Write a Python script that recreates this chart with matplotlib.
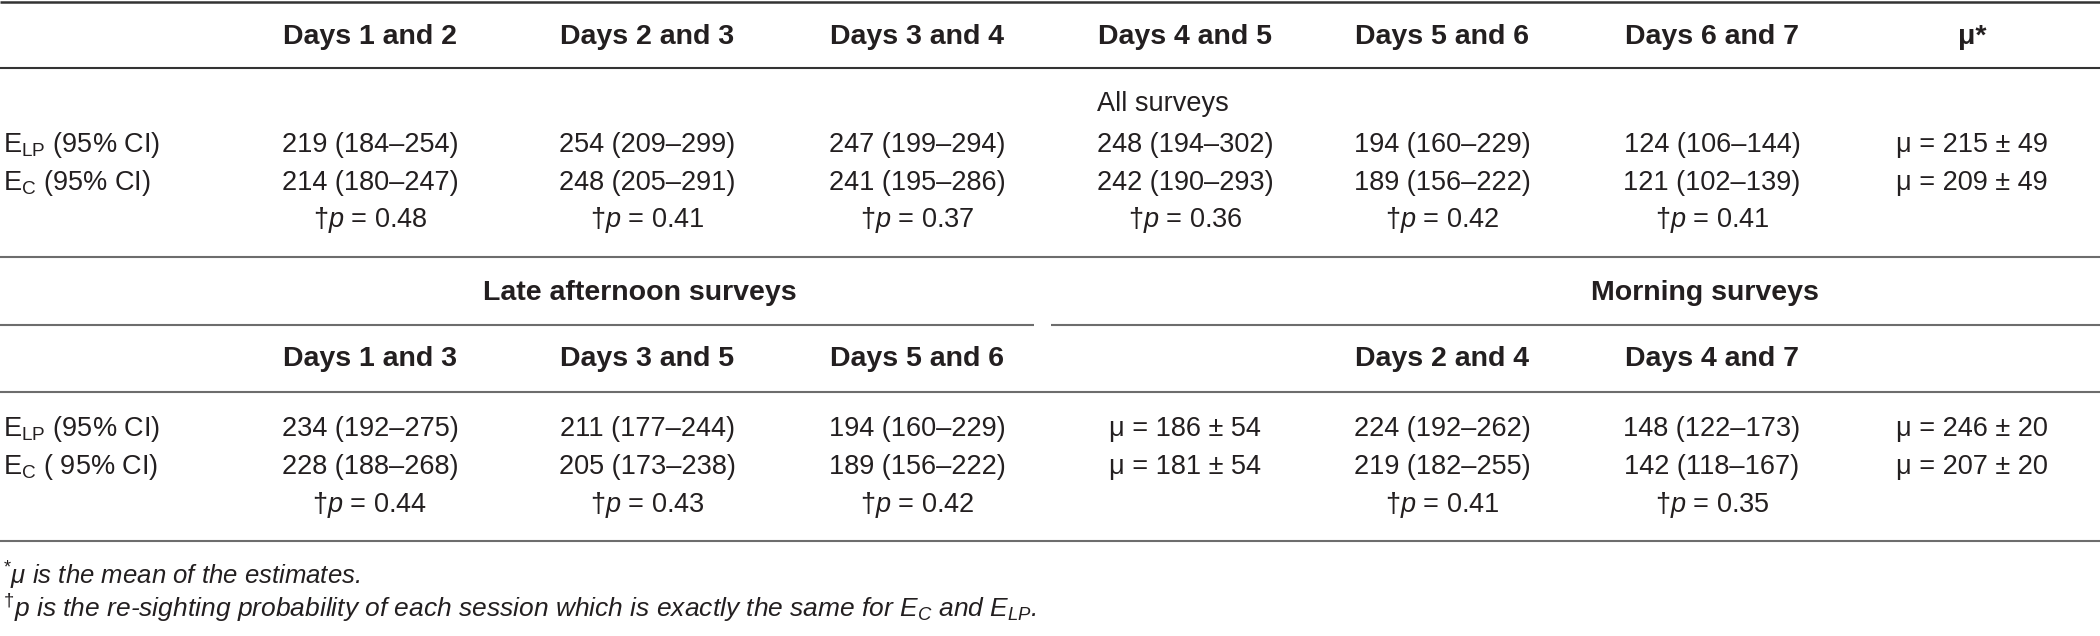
"""
Capture-recapture estimates table (Lincoln-Petersen vs Chapman).
"""
import matplotlib
matplotlib.use("Agg")
from matplotlib import pyplot as plt

plt.rcParams['font.family'] = ['Liberation Sans', 'DejaVu Sans']
plt.rcParams['mathtext.fontset'] = 'custom'
plt.rcParams['mathtext.rm'] = 'Liberation Sans'
plt.rcParams['mathtext.it'] = 'Liberation Sans:italic'
plt.rcParams['mathtext.bf'] = 'Liberation Sans:bold'

# all surveys
all_cols = ["Days 1 and 2", "Days 2 and 3", "Days 3 and 4", "Days 4 and 5",
            "Days 5 and 6", "Days 6 and 7"]
all_elp = [219, 254, 247, 248, 194, 124]
all_elp_lo = [184, 209, 199, 194, 160, 106]
all_elp_hi = [254, 299, 294, 302, 229, 144]
all_ec = [214, 248, 241, 242, 189, 121]
all_ec_lo = [180, 205, 195, 190, 156, 102]
all_ec_hi = [247, 291, 286, 293, 222, 139]
all_p = ["0.48", "0.41", "0.37", "0.36", "0.42", "0.41"]
all_mu = [215, 209]
all_sd = [49, 49]

# late afternoon surveys
pm_cols = ["Days 1 and 3", "Days 3 and 5", "Days 5 and 6"]
pm_elp = [234, 211, 194]
pm_elp_lo = [192, 177, 160]
pm_elp_hi = [275, 244, 229]
pm_ec = [228, 205, 189]
pm_ec_lo = [188, 173, 156]
pm_ec_hi = [268, 238, 222]
pm_p = ["0.44", "0.43", "0.42"]
pm_mu = [186, 181]
pm_sd = [54, 54]

# morning surveys
am_cols = ["Days 2 and 4", "Days 4 and 7"]
am_elp = [224, 148]
am_elp_lo = [192, 122]
am_elp_hi = [262, 173]
am_ec = [219, 142]
am_ec_lo = [182, 118]
am_ec_hi = [255, 167]
am_p = ["0.41", "0.35"]
am_mu = [246, 207]
am_sd = [20, 20]

ink = "#231f20"
W, H = 2100, 636
colx = [370, 647, 917, 1185, 1442, 1712, 1972]
fs = 19.5
fsb = 20.5


def est(v, lo, hi):
    return "{0} ({1}\u2013{2})".format(v, lo, hi)


def ptext(p, italic=False):
    if italic:
        return "\u2020$p$ = $\\mathit{" + p + "}$"
    return "\u2020$p$ = " + p


fig = plt.figure(figsize=(W / 100, H / 100), dpi=100)
ax = fig.add_axes([0, 0, 1, 1])
ax.set_xlim(0, W)
ax.set_ylim(H, 0)
ax.axis("off")


def cell(x, y, s, bold=False, ha="center", **kw):
    ax.text(x, y, s, ha=ha, va="center", fontsize=fsb if bold else fs,
            fontweight="bold" if bold else "normal", color=ink, **kw)


def hline(y, x0=0, x1=W, color="#6d6d6d", lw=1.5):
    ax.plot([x0, x1], [y, y], color=color, lw=lw, solid_capstyle="butt")


# rules
hline(1.5, color="#333333", lw=1.8)
hline(68, color="#333333")
hline(257)
hline(325, 0, 1034)
hline(325, 1051, W)
hline(392)
hline(541)

# upper block
for i, c in enumerate(all_cols):
    cell(colx[i], 37, c, bold=True)
cell(colx[6], 37, "\u03bc*", bold=True)
cell(1163, 104, "All surveys")
y_lp, y_c, y_p = 145, 183, 220
cell(3, y_lp, "E$_{\\mathrm{LP}}$ (95% CI)", ha="left")
cell(3, y_c, "E$_{\\mathrm{C}}$ (95% CI)", ha="left")
for i in range(len(all_cols)):
    cell(colx[i], y_lp, est(all_elp[i], all_elp_lo[i], all_elp_hi[i]))
    cell(colx[i], y_c, est(all_ec[i], all_ec_lo[i], all_ec_hi[i]))
    cell(colx[i], y_p, ptext(all_p[i], italic=(all_p[i] == "0.37")))
cell(colx[6], y_lp, "\u03bc = {0} \u00b1 {1}".format(all_mu[0], all_sd[0]))
cell(colx[6], y_c, "\u03bc = {0} \u00b1 {1}".format(all_mu[1], all_sd[1]))

# lower block
cell(640, 293, "Late afternoon surveys", bold=True)
cell(1705, 293, "Morning surveys", bold=True)
for i, c in enumerate(pm_cols):
    cell(colx[i], 359, c, bold=True)
for i, c in enumerate(am_cols):
    cell(colx[4 + i], 359, c, bold=True)
y_lp, y_c, y_p = 429, 467, 505
cell(3, y_lp, "E$_{\\mathrm{LP}}$ (95% CI)", ha="left")
cell(3, y_c, "E$_{\\mathrm{C}}$ ( 95% CI)", ha="left")
for i in range(len(pm_cols)):
    cell(colx[i], y_lp, est(pm_elp[i], pm_elp_lo[i], pm_elp_hi[i]))
    cell(colx[i], y_c, est(pm_ec[i], pm_ec_lo[i], pm_ec_hi[i]))
    cell(colx[i], y_p, ptext(pm_p[i]))
cell(colx[3], y_lp, "\u03bc = {0} \u00b1 {1}".format(pm_mu[0], pm_sd[0]))
cell(colx[3], y_c, "\u03bc = {0} \u00b1 {1}".format(pm_mu[1], pm_sd[1]))
for i in range(len(am_cols)):
    cell(colx[4 + i], y_lp, est(am_elp[i], am_elp_lo[i], am_elp_hi[i]))
    cell(colx[4 + i], y_c, est(am_ec[i], am_ec_lo[i], am_ec_hi[i]))
    cell(colx[4 + i], y_p, ptext(am_p[i]))
cell(colx[6], y_lp, "\u03bc = {0} \u00b1 {1}".format(am_mu[0], am_sd[0]))
cell(colx[6], y_c, "\u03bc = {0} \u00b1 {1}".format(am_mu[1], am_sd[1]))

# footnotes
ax.text(3, 576, "$^{*}$\u03bc is the mean of the estimates.", ha="left",
        va="center", fontsize=18.5, style="italic", color=ink)
ax.text(3, 608, "$^{\u2020}$$\\mathit{p}$ is the re-sighting probability of each "
        "session which is exactly the same for $\\mathit{E}_{\\mathit{C}}$ and "
        "$\\mathit{E}_{\\mathit{LP}}$.", ha="left", va="center", fontsize=19,
        style="italic", color=ink)

plt.savefig("out.png", dpi=100)
